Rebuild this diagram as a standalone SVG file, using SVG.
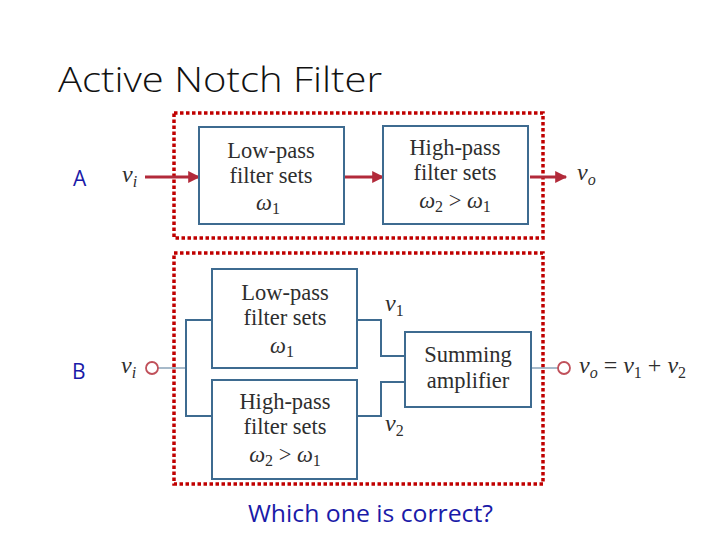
<svg xmlns="http://www.w3.org/2000/svg" width="720" height="540" viewBox="0 0 720 540">
<defs>
<style>
.box{fill:#fff;stroke:#3e6b90;stroke-width:2}
.wire{fill:none;stroke:#3e6b90;stroke-width:2}
.thin{fill:none;stroke:#8aa3b8;stroke-width:1.5}
.dash{fill:none;stroke:#c00000;stroke-width:3.5;stroke-dasharray:3.5 2.5}
.arr{fill:none;stroke:#b22a3a;stroke-width:3}
.lbl{font-family:"Liberation Serif","DejaVu Serif",serif;font-size:22.5px;fill:#2e2e2e;text-anchor:middle}
.var{font-family:"Liberation Serif","DejaVu Serif",serif;font-size:24px;font-style:italic;fill:#2e2e2e}
.sub{font-size:16px}
.num{font-style:normal}
.blue{font-family:"Open Sans","Liberation Sans",sans-serif;fill:#1a1aa8}
.port{fill:#fff;stroke:#c0505a;stroke-width:1.8}
</style>
<marker id="ah" viewBox="0 0 10 10" refX="9" refY="5" markerWidth="5" markerHeight="4" markerUnits="strokeWidth" orient="auto">
<path d="M0,0 L10,5 L0,10 z" fill="#b22a3a"/>
</marker>
</defs>
<rect width="720" height="540" fill="#fff"/>
<text x="58" y="92" font-family="'Open Sans','Liberation Sans',sans-serif" font-weight="300" font-size="35" fill="#111" textLength="324" lengthAdjust="spacingAndGlyphs">Active Notch Filter</text>

<text class="blue" x="73" y="186" font-size="21">A</text>
<text class="blue" x="72" y="379" font-size="21">B</text>

<g id="frameA"><rect class="dash" x="174" y="113" width="369" height="125"/></g>
<g id="frameB"><rect class="dash" x="174" y="253" width="369" height="231"/></g>

<g id="connectors">
<line class="arr" x1="145" y1="177" x2="199" y2="177" marker-end="url(#ah)"/>
<line class="arr" x1="345" y1="177" x2="383" y2="177" marker-end="url(#ah)"/>
<line class="arr" x1="530" y1="177" x2="566" y2="177" marker-end="url(#ah)"/>
<line class="thin" x1="158" y1="368" x2="186" y2="368"/>
<polyline class="wire" points="212,320 186,320 186,416 212,416"/>
<polyline class="wire" points="357,320 381,320 381,356 405,356"/>
<polyline class="wire" points="357,416 381,416 381,382 405,382"/>
<line class="thin" x1="531" y1="368" x2="558" y2="368"/>
<circle class="port" cx="152" cy="368" r="6"/>
<circle class="port" cx="564" cy="368" r="6"/>
</g>

<g id="vi-top"><text class="var" x="122" y="182">v<tspan class="sub" dy="5">i</tspan></text></g>
<g id="vo-top"><text class="var" x="577" y="180">v<tspan class="sub" dy="5">o</tspan></text></g>

<g id="lp-top">
<rect class="box" x="199" y="127" width="145" height="97"/>
<text class="lbl" x="271" y="158">Low-pass</text>
<text class="lbl" x="271" y="183">filter sets</text>
<text class="lbl" x="268" y="210" font-style="italic">ω<tspan class="sub num" dy="4">1</tspan></text>
</g>
<g id="hp-top">
<rect class="box" x="383" y="126" width="145" height="98"/>
<text class="lbl" x="455" y="155">High-pass</text>
<text class="lbl" x="455" y="180">filter sets</text>
<text class="lbl" x="455" y="208"><tspan font-style="italic">ω</tspan><tspan class="sub" dy="4">2</tspan><tspan dy="-4"> &gt; </tspan><tspan font-style="italic">ω</tspan><tspan class="sub" dy="4">1</tspan></text>
</g>

<g id="vi-bot"><text class="var" x="121" y="373" fill="#555">v<tspan class="sub" dy="5">i</tspan></text></g>

<g id="lp-bot">
<rect class="box" x="212" y="269" width="145" height="99"/>
<text class="lbl" x="285" y="300">Low-pass</text>
<text class="lbl" x="285" y="325">filter sets</text>
<text class="lbl" x="282" y="353" font-style="italic">ω<tspan class="sub num" dy="4">1</tspan></text>
</g>
<g id="hp-bot">
<rect class="box" x="212" y="380" width="145" height="99"/>
<text class="lbl" x="285" y="409">High-pass</text>
<text class="lbl" x="285" y="434">filter sets</text>
<text class="lbl" x="285" y="462"><tspan font-style="italic">ω</tspan><tspan class="sub" dy="4">2</tspan><tspan dy="-4"> &gt; </tspan><tspan font-style="italic">ω</tspan><tspan class="sub" dy="4">1</tspan></text>
</g>
<g id="sum">
<rect class="box" x="405" y="332" width="126" height="75"/>
<text class="lbl" x="468" y="362">Summing</text>
<text class="lbl" x="468" y="388">amplifier</text>
</g>

<g id="v1"><text class="var" x="385" y="311">v<tspan class="sub num" dy="5">1</tspan></text></g>
<g id="v2"><text class="var" x="385" y="431">v<tspan class="sub num" dy="5">2</tspan></text></g>
<g id="vo-bot"><text class="var" x="579" y="373">v<tspan class="sub" dy="5">o</tspan><tspan class="num" dy="-5"> = </tspan>v<tspan class="sub num" dy="5">1</tspan><tspan class="num" dy="-5"> + </tspan>v<tspan class="sub num" dy="5">2</tspan></text></g>

<text class="blue" x="248" y="522" font-size="23" textLength="245" lengthAdjust="spacingAndGlyphs">Which one is correct?</text>
</svg>
